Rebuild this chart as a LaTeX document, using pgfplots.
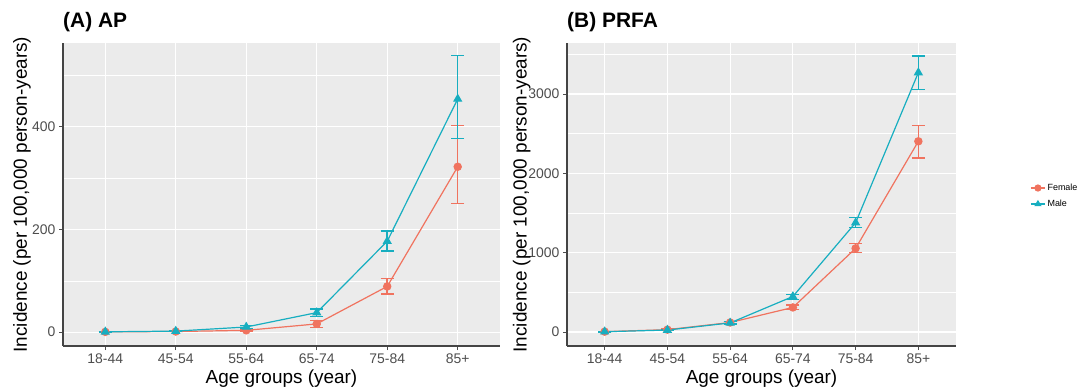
\documentclass[border=0pt]{standalone}
\usepackage{fontspec}
\setmainfont{Liberation Sans}
\usepackage{pgfplots}
\usepackage{pgfplotstable}
\pgfplotsset{compat=1.18}

\definecolor{fem}{HTML}{F0735F}
\definecolor{mal}{HTML}{17AEC0}
\definecolor{panelbg}{HTML}{EBEBEB}
\definecolor{tickgray}{HTML}{4D4D4D}
\definecolor{axisgray}{HTML}{444444}

% Incidence per 100,000 person-years with 95% CI (x: age group index)
\pgfplotstableread{
x   y     lo    hi
0   0.5   0.2   0.9
1   1.2   0.6   1.9
2   3.5   2.0   5.0
3   16    9     23
4   89    74    104
5   322   250   402
}\apFemale
\pgfplotstableread{
x   y     lo    hi
0   0.6   0.2   1.0
1   2.0   1.0   3.0
2   10    7     13
3   38    31    45
4   177   158   197
5   454   377   538
}\apMale
\pgfplotstableread{
x   y     lo    hi
0   5     3     7
1   30    22    38
2   120   105   135
3   310   280   339
4   1055  1001  1114
5   2404  2194  2604
}\prfaFemale
\pgfplotstableread{
x   y     lo    hi
0   4     2     6
1   25    18    32
2   115   100   130
3   448   414   477
4   1378  1315  1441
5   3270  3061  3480
}\prfaMale

\pgfplotsset{
  ggpanel/.style={
    scale only axis,
    height=303bp,
    axis background/.style={fill=panelbg},
    axis lines*=left,
    axis line style={axisgray, line width=1.2bp},
    xmin=-0.6, xmax=5.6,
    xtick={0,1,2,3,4,5},
    xticklabels={18-44,45-54,55-64,65-74,75-84,85+},
    tick align=outside,
    major tick length=4bp,
    minor tick length=0pt,
    tick style={tickgray, line width=0.8bp},
    xmajorgrids, ymajorgrids, yminorgrids,
    major grid style={white, line width=1.1bp},
    minor grid style={white, line width=0.55bp},
    /pgf/number format/assume math mode=true,
    /pgf/number format/1000 sep={},
    tick label style={font=\fontsize{14}{16}\selectfont, text=tickgray},
    label style={font=\fontsize{19}{22}\selectfont},
    xlabel={Age groups (year)},
    ylabel={Incidence (per 100,000 person-years)},
    x label style={at={(axis description cs:0.5,-0.108)}, anchor=center},
    title style={at={(axis description cs:0,1)}, anchor=base west, inner sep=0pt,
      yshift=10bp, font=\bfseries\fontsize{21}{24}\selectfont},
    clip=false,
  },
  femstyle/.style={color=fem, line width=1.2bp, mark=*, mark size=3.6bp,
    mark options={solid, fill=fem, draw=fem},
    error bars/.cd, y dir=both, y explicit,
    error bar style={draw=fem, line width=1.5bp},
    error mark options={draw=fem, line width=1.3bp, mark size=6.5bp, rotate=90}},
  malstyle/.style={color=mal, line width=1.2bp, mark=triangle*, mark size=4.2bp,
    mark options={solid, fill=mal, draw=mal},
    error bars/.cd, y dir=both, y explicit,
    error bar style={draw=mal, line width=1.5bp},
    error mark options={draw=mal, line width=1.3bp, mark size=6.5bp, rotate=90}},
}

\begin{document}
\begin{tikzpicture}[x=1bp, y=1bp]
\useasboundingbox (0,0) rectangle (1088,389);

% Panel A: AP
\begin{axis}[ggpanel,
  at={(63bp,43bp)}, anchor=south west,
  width=437bp,
  ymin=-27, ymax=563,
  ytick={0,200,400},
  minor ytick={100,300,500},
  title={(A) AP},
  y label style={at={(axis description cs:-0.0938,0.5)}, anchor=center},
]
\addplot[femstyle] table[x=x, y=y,
  y error plus expr=\thisrow{hi}-\thisrow{y},
  y error minus expr=\thisrow{y}-\thisrow{lo}] {\apFemale};
\addplot[malstyle] table[x=x, y=y,
  y error plus expr=\thisrow{hi}-\thisrow{y},
  y error minus expr=\thisrow{y}-\thisrow{lo}] {\apMale};
\end{axis}

% Panel B: PRFA
\begin{axis}[ggpanel,
  at={(567bp,43bp)}, anchor=south west,
  width=389bp,
  ymin=-176, ymax=3643,
  ytick={0,1000,2000,3000},
  minor ytick={500,1500,2500,3500},
  title={(B) PRFA},
  y label style={at={(axis description cs:-0.1165,0.5)}, anchor=center},
  legend style={at={(axis description cs:1.188,0.495)}, anchor=west,
    draw=none, fill=none, font=\fontsize{9}{11}\selectfont,
    row sep=4bp, inner sep=1bp},
  legend cell align=left,
  legend image code/.code={
    \draw[#1, line width=1.2bp] (0bp,0bp) -- (14bp,0bp);
    \draw[#1, mark size=3bp] plot coordinates {(7bp,0bp)};
  },
]
\addplot[femstyle] table[x=x, y=y,
  y error plus expr=\thisrow{hi}-\thisrow{y},
  y error minus expr=\thisrow{y}-\thisrow{lo}] {\prfaFemale};
\addlegendentry{Female}
\addplot[malstyle] table[x=x, y=y,
  y error plus expr=\thisrow{hi}-\thisrow{y},
  y error minus expr=\thisrow{y}-\thisrow{lo}] {\prfaMale};
\addlegendentry{Male}
\end{axis}
\end{tikzpicture}
\end{document}
